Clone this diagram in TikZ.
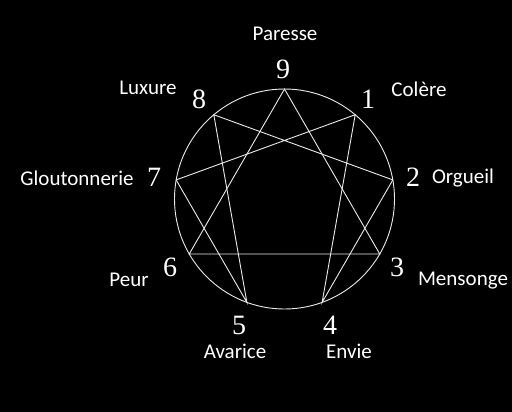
\documentclass[tikz,border=0pt]{standalone}
\usepackage{fontspec}
\setmainfont{Carlito}
\newfontfamily\digitfont{Liberation Serif}
\begin{document}
\begin{tikzpicture}[x=1pt,y=-1pt,
  line/.style={draw=white!92!black,line width=0.9pt},
  num/.style={text=white,font=\digitfont\fontsize{28}{28}\selectfont,inner sep=0pt},
  vice/.style={text=white,font=\fontsize{21}{22}\selectfont,inner sep=0pt}]
\fill[black] (0,0) rectangle (512,412);
\useasboundingbox (0,0) rectangle (512,412);
\coordinate (c) at (284.5,199);
\foreach \k in {1,...,9}{
  \coordinate (p\k) at ({284.5+110*cos(90-40*\k)},{199-110*sin(90-40*\k)});
}
\draw[line] (c) circle (110);
\draw[line] (p9) -- (p3) -- (p6) -- cycle;
\draw[line] (p1) -- (p4) -- (p2) -- (p8) -- (p5) -- (p7) -- cycle;
% numbers
\node[num] (n9) at (283,69) {9};
\node[num] (n1) at (368,99) {1};
\node[num] (n2) at (413,177) {2};
\node[num] (n3) at (397,267) {3};
\node[num] (n4) at (330,325) {4};
\node[num] (n5) at (239,325) {5};
\node[num] (n6) at (170,267) {6};
\node[num] (n7) at (154,177) {7};
\node[num] (n8) at (199,99) {8};
% vices
\node[vice] (v9) at (285,34) {Paresse};
\node[vice] (v1) at (419,89) {Colère};
\node[vice] (v2) at (463,178) {Orgueil};
\node[vice] (v3) at (463,281) {Mensonge};
\node[vice] (v4) at (349,351) {Envie};
\node[vice] (v5) at (235,351) {Avarice};
\node[vice] (v6) at (129,280) {Peur};
\node[vice] (v7) at (77,178) {Gloutonnerie};
\node[vice] (v8) at (148,88) {Luxure};
\end{tikzpicture}
\end{document}
